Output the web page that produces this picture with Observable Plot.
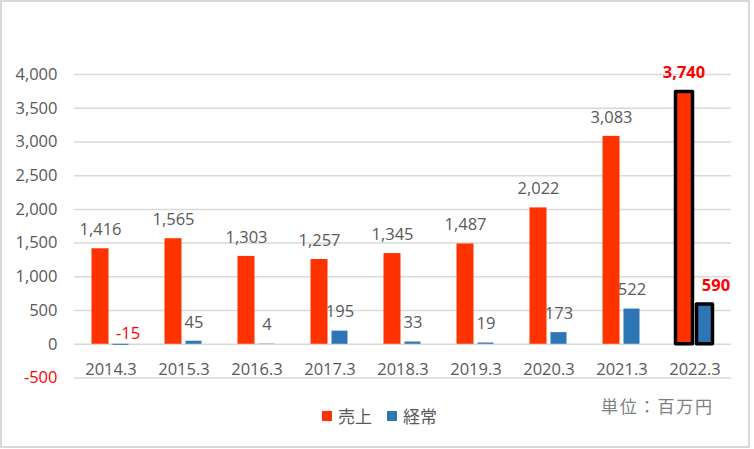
<!DOCTYPE html>
<html>
<head>
<meta charset="utf-8">
<script src="https://cdn.jsdelivr.net/npm/d3@7"></script>
<script src="https://cdn.jsdelivr.net/npm/@observablehq/plot@0.6"></script>
<style>
  html, body { margin: 0; padding: 0; background: #fff; }
  #wrap { position: relative; width: 754px; height: 449px; overflow: hidden; }
  #frame { position: absolute; left: 0; top: 0; width: 750px; height: 448px; box-sizing: border-box; border: 2px solid #d9d9d9; }
  #chart { position: absolute; left: 0; top: 0; }
  #legend { position: absolute; left: 322px; top: 403px; font-family: "Noto Sans CJK JP", sans-serif; font-size: 17px; color: #595959; display: flex; align-items: center; }
  .sw { display: inline-block; width: 10px; height: 10px; margin-right: 6px; }
  .item { display: flex; align-items: center; margin-right: 15px; }
  #unit { position: absolute; left: 601px; top: 393px; font-family: "Noto Sans CJK JP", sans-serif; font-size: 17px; color: #7f7f7f; letter-spacing: 1.8px; }
</style>
</head>
<body>
<div id="wrap">
  <div id="frame"></div>
  <div id="chart"></div>
  <div id="legend"></div>
  <div id="unit"></div>
</div>
<script>
const categories = ["2014.3","2015.3","2016.3","2017.3","2018.3","2019.3","2020.3","2021.3","2022.3"];
const sales = [1416, 1565, 1303, 1257, 1345, 1487, 2022, 3083, 3740];   // 売上
const ordinary = [-15, 45, 4, 195, 33, 19, 173, 522, 590];              // 経常
const yTicks = [-500, 0, 500, 1000, 1500, 2000, 2500, 3000, 3500, 4000];
const seriesNames = ["売上", "経常"];
const unitLabel = "単位：百万円";

const RED = "#ff3300", BLUE = "#2e75b6", TXT = "#595959";
const fmt0 = d3.format(",");
const fmt = v => fmt0(v).replace("\u2212", "-");

const salesData = categories.map((c, i) => ({cat: c, v: sales[i], last: i === categories.length - 1}));
const ordData = categories.map((c, i) => ({cat: c, v: ordinary[i], last: i === categories.length - 1}));

const plot = Plot.plot({
  width: 754,
  height: 400,
  marginLeft: 74,
  marginRight: 23,
  marginTop: 74,
  marginBottom: 22.5,
  style: {fontFamily: "'Open Sans', sans-serif", fontSize: "16.5px", color: TXT, background: "transparent"},
  x: {domain: categories, padding: 0, label: null},
  y: {domain: [-500, 4000], label: null},
  marks: [
    Plot.gridY(yTicks, {stroke: "#d9d9d9", strokeOpacity: 1, strokeWidth: 1.5}),
    Plot.axisY(yTicks.filter(t => t >= 0), {tickSize: 0, tickPadding: 17, tickFormat: fmt, fill: TXT, label: null}),
    Plot.axisY(yTicks.filter(t => t < 0), {tickSize: 0, tickPadding: 17, tickFormat: fmt, fill: "#ff0000", label: null}),
    Plot.axisX({tickSize: 0, tickPadding: 0, dy: -15, fill: TXT, label: null}),
    // sales bars
    Plot.barY(salesData.filter(d => !d.last), {x: "cat", y: "v", fill: RED, insetLeft: 17.5, insetRight: 38.5}),
    Plot.barY(salesData.filter(d => d.last), {x: "cat", y: "v", fill: RED, insetLeft: 17.5, insetRight: 38.5, stroke: "#000", strokeWidth: 3.5, strokeLinejoin: "round"}),
    // ordinary bars
    Plot.barY(ordData.filter(d => !d.last), {x: "cat", y: "v", fill: BLUE, insetLeft: 38.5, insetRight: 18.5}),
    Plot.barY(ordData.filter(d => d.last), {x: "cat", y: "v", fill: BLUE, insetLeft: 38.5, insetRight: 18.5, stroke: "#000", strokeWidth: 3.5, strokeLinejoin: "round"}),
    // labels
    Plot.text(salesData.filter(d => !d.last), {x: "cat", y: "v", text: d => fmt(d.v), dx: -10.5, dy: -19, fill: TXT}),
    Plot.text(salesData.filter(d => d.last), {x: "cat", y: "v", text: d => fmt(d.v), dx: -11, dy: -19, fill: "#ff0000", fontWeight: "bold"}),
    Plot.text(ordData.filter(d => !d.last && d.v >= 0), {x: "cat", y: "v", text: d => fmt(d.v), dx: 10, dy: -19, fill: TXT}),
    Plot.text(ordData.filter(d => d.v < 0), {x: "cat", y: 0, text: d => fmt(d.v), dx: 17, dy: -11, fill: "#ff0000"}),
    Plot.text(ordData.filter(d => d.last), {x: "cat", y: "v", text: d => fmt(d.v), dx: 21, dy: -19, fill: "#ff0000", fontWeight: "bold"})
  ]
});
document.getElementById("chart").appendChild(plot);

const legend = document.getElementById("legend");
[[seriesNames[0], RED], [seriesNames[1], BLUE]].forEach(([n, c]) => {
  const it = document.createElement("span");
  it.className = "item";
  it.innerHTML = `<span class="sw" style="background:${c}"></span><span>${n}</span>`;
  legend.appendChild(it);
});
document.getElementById("unit").textContent = unitLabel;
</script>
</body>
</html>
